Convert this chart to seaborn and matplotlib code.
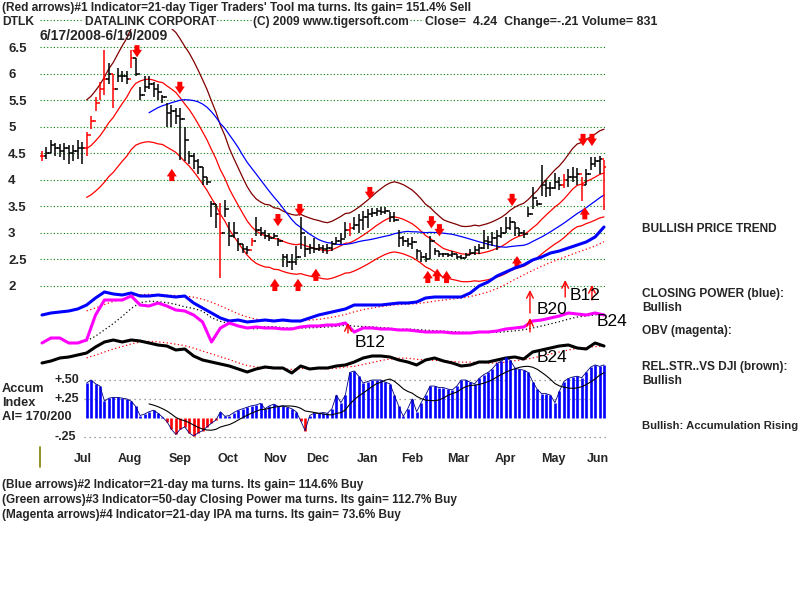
import numpy as np
import pandas as pd
import matplotlib
matplotlib.use("Agg")
import matplotlib.pyplot as plt
import seaborn as sns
from matplotlib.lines import Line2D

# ---------------- data (2 trading days per bar) ----------------
close = [4.45,4.5,4.65,4.6,4.55,4.6,4.5,4.55,4.6,4.6,
         4.85,5.1,5.45,5.7,5.9,6.0,5.7,5.95,5.95,5.9,
         6.3,6.0,5.6,5.75,5.8,5.7,5.65,5.55,5.25,5.3,
         5.2,5.15,4.75,4.45,4.35,4.25,4.05,3.95,3.55,3.35,
         3.0,3.45,2.95,3.0,2.8,2.7,2.68,2.85,3.05,3.0,
         2.95,2.9,2.95,2.85,2.55,2.45,2.45,2.55,3.0,2.7,
         2.72,2.7,2.72,2.7,2.72,2.8,2.85,2.88,3.05,3.1,
         3.15,3.25,3.3,3.35,3.38,3.42,3.4,3.42,3.3,3.25,
         2.9,2.85,2.8,2.82,2.65,2.55,2.5,2.85,2.65,2.6,
         2.6,2.58,2.6,2.55,2.53,2.58,2.62,2.68,2.72,2.85,
         2.82,2.9,2.95,3.0,3.1,3.2,3.1,3.0,2.98,3.35,
         3.65,3.55,3.9,3.85,3.85,3.95,3.9,4.0,4.05,4.05,
         4.1,3.9,4.1,4.3,4.35,4.4,4.24]
high = [4.55,4.62,4.75,4.7,4.68,4.7,4.65,4.65,4.75,4.72,
        4.9,5.2,5.55,5.85,6.45,6.2,6.0,6.1,6.05,6.05,
        6.45,6.3,5.75,5.95,5.95,5.85,5.8,5.6,5.45,5.4,
        5.35,5.35,5.0,4.55,4.5,4.4,4.25,4.05,3.6,3.55,
        3.56,3.62,3.2,3.2,2.9,2.8,2.75,2.9,3.3,3.12,
        3.05,3.0,3.0,2.9,2.6,2.6,2.6,2.75,3.3,2.95,
        2.8,2.9,2.8,2.78,2.8,2.85,2.92,3.0,3.2,3.18,
        3.3,3.35,3.42,3.45,3.47,3.47,3.48,3.48,3.4,3.4,
        3.05,2.95,2.9,2.92,2.7,2.64,2.62,2.95,2.72,2.65,
        2.62,2.62,2.65,2.6,2.58,2.62,2.7,2.75,2.8,3.05,
        2.95,3.02,3.05,3.12,3.3,3.3,3.2,3.1,3.05,3.48,
        3.86,3.62,4.27,4.0,3.95,4.13,4.05,4.1,4.2,4.24,
        4.22,4.05,4.2,4.43,4.43,4.45,4.37]
low = [4.35,4.4,4.5,4.45,4.42,4.38,4.3,4.35,4.4,4.3,
       4.45,4.95,5.3,5.5,5.6,5.8,5.35,5.85,5.85,5.8,
       6.1,5.95,5.5,5.65,5.7,5.55,5.5,5.45,5.0,5.0,
       5.05,4.37,4.35,4.3,4.2,4.1,3.9,3.9,3.3,3.1,
       2.15,3.3,2.75,2.9,2.65,2.62,2.6,2.75,2.95,2.95,
       2.88,2.85,2.9,2.75,2.35,2.35,2.3,2.4,2.7,2.55,
       2.6,2.62,2.65,2.62,2.6,2.65,2.8,2.8,2.9,2.95,
       3.05,3.0,3.05,3.1,3.3,3.32,3.34,3.35,3.2,3.2,
       2.74,2.75,2.74,2.7,2.5,2.45,2.45,2.5,2.58,2.55,
       2.55,2.54,2.55,2.5,2.5,2.52,2.58,2.58,2.6,2.7,
       2.7,2.75,2.68,2.9,3.0,3.05,2.95,2.95,2.9,3.3,
       3.45,3.5,3.7,3.68,3.7,3.82,3.8,3.85,3.87,3.95,
       3.9,3.6,3.9,4.18,4.25,4.1,3.43]
red_bars = [0, 10, 11, 12, 13, 14, 16, 20, 40, 47, 69, 117, 121, 126]

# Accumulation index (starts at bar 10)
ai_start = 10
ai = [0.46,0.50,0.45,0.42,0.22,0.26,0.27,0.27,0.26,0.25,
      0.22,0.15,0.03,0.05,0.08,0.10,0.06,0.01,-0.05,-0.15,
      -0.22,-0.15,-0.12,-0.20,-0.24,-0.20,-0.17,-0.12,-0.07,-0.03,
      0.08,0.02,0.03,0.07,0.10,0.12,0.14,0.16,0.17,0.19,
      0.12,0.16,0.18,0.15,0.16,0.14,0.12,0.08,-0.04,-0.17,
      0.03,0.06,0.06,0.07,0.06,0.12,0.30,0.20,0.30,0.60,
      0.62,0.55,0.46,0.48,0.50,0.50,0.50,0.47,0.45,0.30,
      0.15,0.02,0.12,0.25,0.08,0.20,0.30,0.42,0.42,0.40,
      0.40,0.38,0.37,0.42,0.50,0.50,0.47,0.45,0.52,0.57,
      0.60,0.65,0.72,0.75,0.80,0.76,0.66,0.64,0.63,0.60,
      0.48,0.38,0.32,0.32,0.30,0.20,0.35,0.48,0.52,0.54,
      0.55,0.53,0.60,0.67,0.70,0.68,0.70]

# Indicators (every 2 bars, arbitrary units)
cp = [65,67,68,69,71,75,82,88,86,85,87,84,84,85,84,83,84,77,72,67,
      62,59,60,58,59,60,59,60,59,59,62,65,67,69,71,75,75,75,75,76,
      77,77,78,82,83,83,83,83,87,94,98,104,108,112,115,120,123,127,129,132,
      135,138,143,153]
obv = [37,42,42,37,37,40,65,80,80,80,84,75,74,77,74,70,69,65,58,38,
       52,57,54,52,53,52,52,51,51,53,54,54,55,55,57,48,52,52,51,51,
       50,50,49,48,48,48,47,47,47,48,48,49,51,52,53,59,60,62,64,67,
       66,65,67,65]
rs = [17,19,22,23,25,27,33,38,40,38,40,39,37,35,34,30,31,24,20,18,
      16,14,11,8,11,13,12,12,7,14,11,12,12,14,15,18,22,24,24,23,
      20,18,15,20,22,19,17,14,15,18,18,20,22,23,21,28,30,32,34,35,
      32,31,37,34]

price_ticks = [2, 2.5, 3, 3.5, 4, 4.5, 5, 5.5, 6, 6.5, 7]
price_tick_labels = ["2", "2.5", "3", "3.5", "4", "4.5", "5", "5.5", "6", "6.5", ""]
months = ["Jul", "Aug", "Sep", "Oct", "Nov", "Dec", "Jan", "Feb", "Mar", "Apr", "May", "Jun"]
month_pos = [9.2, 19.7, 31, 41.7, 52.2, 61.9, 72.9, 83, 93.3, 103.8, 114.6, 124.7]

sell_x = [21.3, 30.9, 52.9, 57.8, 73.5, 87.3, 89.1, 105.4, 121.3, 123.3]
sell_y = [6.42, 5.73, 3.24, 3.43, 3.75, 3.2, 3.05, 3.62, 4.75, 4.75]
buy_x = [29.1, 52.2, 57.4, 61.4, 86.5, 88.6, 90.7, 106.5, 121.7]
buy_y = [4.09, 2.02, 2.02, 2.21, 2.17, 2.21, 2.17, 2.45, 3.37]
sig_x = [109.4, 109.4, 117.3, 123.3, 68.6]
sig_y0 = [67, 48, 83, 80, 47]
sig_y1 = [90, 62, 100, 95, 57]
lab_text = ["B12", "B20", "B12", "B24", "B24"]
lab_x = [70.2, 111.0, 118.4, 124.4, 111.0]
lab_y = [37, 70, 84, 58, 22]

# ---------------- figure ----------------
sns.set_theme(style="white")
plt.rcParams["font.family"] = ["Liberation Sans", "DejaVu Sans"]
W, H = 800, 600
fig = plt.figure(figsize=(8, 6), dpi=100)
fig.patch.set_facecolor("white")

def frac(x0, y0, x1, y1):
    return [x0 / W, 1 - y1 / H, (x1 - x0) / W, (y1 - y0) / H]

XL = (-2 / 4.46, 126 + 2 / 4.46)
ax_p = fig.add_axes(frac(40, 5, 606, 300), zorder=1)
ax_i = fig.add_axes(frac(40, 200, 606, 380), zorder=2)
ax_a = fig.add_axes(frac(40, 350, 606, 445), zorder=3)
for ax in (ax_p, ax_i, ax_a):
    ax.set_xlim(*XL)
    for s in ax.spines.values():
        s.set_visible(False)
ax_i.patch.set_visible(False)
ax_a.patch.set_visible(False)

# ---- price panel ----
x = np.arange(len(close))
ax_p.set_ylim(2.0 - 14 / 53.1, 6.5 + 42 / 53.1)
ax_p.set_yticks(price_ticks)
ax_p.set_yticklabels(price_tick_labels, fontsize=9.5, fontweight="bold")
for lab in ax_p.get_yticklabels():
    lab.set_horizontalalignment("left")
ax_p.tick_params(axis="y", length=0, pad=23)
ax_p.set_xticks([])
ax_p.grid(axis="y", color="#008000", linestyle=(0, (1, 2)), lw=0.8)
ax_p.set_axisbelow(True)

df = pd.DataFrame({"j": x, "close": close})
df["ma21"] = df["close"].rolling(11).mean()
df["upper"] = df["ma21"] * 1.2
df["lower"] = df["ma21"] * 0.8
df["ma50"] = df["close"].rolling(25).mean()
for col, colr in [("upper", "#800000"), ("ma21", "#ff0000"), ("lower", "#ff0000"), ("ma50", "#0000ff")]:
    d = df.dropna(subset=[col])
    sns.lineplot(data=d, x="j", y=col, ax=ax_p, color=colr, lw=0.9)

bar_cols = ["#ff0000" if i in red_bars else "black" for i in x]
opens = [close[0]] + close[:-1]
ax_p.vlines(x, low, high, colors=bar_cols, lw=1.1, zorder=4)
ax_p.hlines(close, x, x + 0.55, colors=bar_cols, lw=1.1, zorder=4)
ax_p.hlines(opens, x - 0.55, x, colors=bar_cols, lw=1.1, zorder=4)

ah = 0.115  # half arrow length in price units
astyle = "simple,head_length=0.45,head_width=0.6,tail_width=0.3"
for xx, yy in zip(sell_x, sell_y):
    ax_p.annotate("", xy=(xx, yy - ah), xytext=(xx, yy + ah),
                  arrowprops=dict(arrowstyle=astyle, color="#ff0000", lw=0, shrinkA=0, shrinkB=0), zorder=6)
for xx, yy in zip(buy_x, buy_y):
    ax_p.annotate("", xy=(xx, yy + ah), xytext=(xx, yy - ah),
                  arrowprops=dict(arrowstyle=astyle, color="#ff0000", lw=0, shrinkA=0, shrinkB=0), zorder=6)
ax_p.set_xlabel("")
ax_p.set_ylabel("")

# ---- indicator panel ----
ij = np.arange(len(cp)) * 2
ax_i.set_ylim(0, 180)
ax_i.set_xticks([])
ax_i.set_yticks([])
s_cp = pd.Series(cp, dtype=float)
s_obv = pd.Series(obv, dtype=float)
s_rs = pd.Series(rs, dtype=float)
sns.lineplot(x=ij[5:], y=s_cp.rolling(6).mean().values[5:], ax=ax_i, color="#ff0000", lw=0.9, linestyle=(0, (1, 2)))
sns.lineplot(x=ij[5:], y=s_obv.rolling(6).mean().values[5:], ax=ax_i, color="black", lw=0.9, linestyle=(0, (1, 2)))
sns.lineplot(x=ij[5:], y=s_rs.rolling(6).mean().values[5:], ax=ax_i, color="#ff0000", lw=0.9, linestyle=(0, (1, 2)))
sns.lineplot(x=ij, y=cp, ax=ax_i, color="#0000ff", lw=2.2)
sns.lineplot(x=ij, y=obv, ax=ax_i, color="#ff00ff", lw=2.2)
sns.lineplot(x=ij, y=rs, ax=ax_i, color="black", lw=2.2)
for xx, y0, y1 in zip(sig_x, sig_y0, sig_y1):
    ax_i.annotate("", xy=(xx, y1), xytext=(xx, y0),
                  arrowprops=dict(arrowstyle="->", color="#ff0000", lw=1.0, shrinkA=0, shrinkB=0))
for t, xx, yy in zip(lab_text, lab_x, lab_y):
    ax_i.text(xx, yy, t, fontsize=12.5, color="black", ha="left", va="center")
ax_i.set_xlabel("")
ax_i.set_ylabel("")

# ---- accumulation index ----
aj = np.arange(ai_start, ai_start + len(ai))
aiv = np.array(ai)
ax_a.set_ylim(-0.25 - 8.3 / 75.6, 0.5 + 30 / 75.6)
ax_a.hlines([0.5, 0.25, -0.25], 9.5, XL[1], colors="#808080", linestyles=[(0, (1, 3))], lw=0.9)
ax_a.vlines(aj, 0, aiv, colors=np.where(aiv >= 0, "#0000ff", "#ff0000"), lw=1.9)
sns.lineplot(x=aj, y=aiv, ax=ax_a, color="#000080", lw=0.6)
ai_ma = pd.Series(aiv).rolling(10).mean().values
sns.lineplot(x=aj[14:], y=ai_ma[14:], ax=ax_a, color="black", lw=0.8)
for val, t in [(0.5, "+.50"), (0.25, "+.25"), (-0.25, "-.25")]:
    ax_a.text(2.9, val, t, fontsize=9, fontweight="bold", ha="left", va="center")
ax_a.set_yticks([])
ax_a.set_xticks(month_pos)
ax_a.set_xticklabels(months, fontsize=9, fontweight="bold")
ax_a.tick_params(axis="x", length=0, pad=6)
ax_a.set_xlabel("")
ax_a.set_ylabel("")

# ---- texts ----
def ftext(px, py, s, size=8, weight="bold", ha="left", **kw):
    fig.text(px / W, 1 - py / H, s, fontsize=size, fontweight=weight, ha=ha, va="center", **kw)

wb = dict(facecolor="white", edgecolor="none", pad=0.5)
ftext(2, 8, "(Red arrows)#1 Indicator=21-day Tiger Traders' Tool ma turns. Its gain= 151.4% Sell", 8.6)
ftext(2, 22, "DTLK", 8.7, bbox=wb)
ftext(85, 22, "DATALINK CORPORAT", 8.7, bbox=wb)
ftext(253, 22, "(C) 2009 www.tigersoft.com", 8.6, bbox=wb)
ftext(425, 22, "Close=  4.24  Change=-.21 Volume= 831", 8.9, bbox=wb)
ftext(40, 36, "6/17/2008-6/19/2009", 10)

ftext(642, 229, "BULLISH PRICE TREND", 8.6)
ftext(642, 294, "CLOSING POWER (blue):", 8.6)
ftext(642, 308, "Bullish", 8.6)
ftext(642, 331, "OBV (magenta):", 8.6)
ftext(642, 367, "REL.STR..VS DJI (brown):", 8.6)
ftext(642, 381, "Bullish", 8.6)
ftext(642, 426, "Bullish: Accumulation Rising", 8.1)

ftext(2, 389, "Accum", 9.2)
ftext(2, 403, "Index", 9.2)
ftext(2, 417, "AI= 170/200", 9.2)

ftext(2, 485, "(Blue arrows)#2 Indicator=21-day ma turns. Its gain= 114.6% Buy", 8.5)
ftext(2, 500, "(Green arrows)#3 Indicator=50-day Closing Power ma turns. Its gain= 112.7% Buy", 8.5)
ftext(2, 515, "(Magenta arrows)#4 Indicator=21-day IPA ma turns. Its gain= 73.6% Buy", 8.5)

fig.add_artist(Line2D([40 / W, 40 / W], [1 - 447 / H, 1 - 467 / H], color="#808000", lw=1.2))

fig.savefig("out.png", dpi=100, facecolor="white")
